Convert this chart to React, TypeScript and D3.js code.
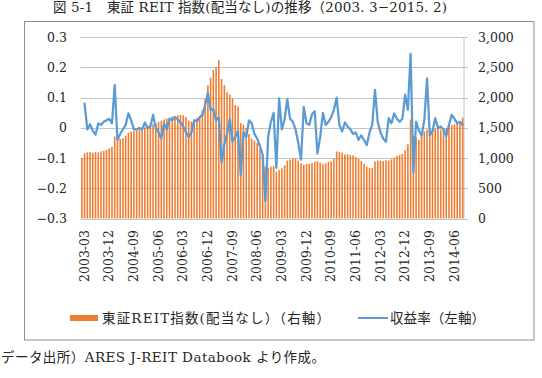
import React from "react";
import * as d3 from "d3";

const W = 542;
const H = 378;

// Monthly TSE REIT index (no dividends), starting 2003-03
const indexValues = [
  1000, 1080, 1095, 1100, 1090, 1100, 1095, 1110, 1120, 1135, 1160, 1185,
  1360, 1310, 1315, 1330, 1370, 1420, 1440, 1450, 1460, 1475, 1490, 1510,
  1525, 1540, 1560, 1580, 1600, 1620, 1640, 1655, 1670, 1690, 1700, 1710,
  1715, 1710, 1680, 1620, 1600, 1640, 1665, 1700, 1790, 1980, 2210, 2330,
  2460, 2510, 2620, 2310, 2210, 2090, 2050, 1990, 1880, 1855, 1580, 1555,
  1500, 1400, 1320, 1290, 1250, 1150, 1030, 860, 840, 860, 870, 775,
  800, 830, 880, 960, 975, 990, 990, 960, 915, 890, 900, 905,
  920, 940, 950, 925, 905, 915, 935, 950, 990, 1110, 1100, 1090,
  1060, 1065, 1050, 1045, 1020, 990, 950, 910, 860, 835, 840, 945,
  960, 955, 950, 965, 960, 980, 1005, 1035, 1050, 1070, 1130, 1230,
  1640, 1360, 1350, 1300, 1400, 1440, 1470, 1490, 1480, 1490, 1490, 1470,
  1490, 1500, 1520, 1550, 1560, 1575, 1600, 1670,
];

// Monthly return (left axis); no value for the first month
const returnValues: (number | null)[] = [
  null, 0.08, -0.005, 0.012, -0.01, -0.022, 0.015, 0.01, 0.02, 0.025, 0.03, 0.015,
  0.142, -0.04, -0.02, -0.005, 0.01, 0.048, 0.025, -0.005, -0.005, 0.0, -0.005, 0.018,
  0.0, 0.005, 0.043, 0.0, -0.015, -0.035, 0.015, -0.005, 0.03, 0.025, 0.035, 0.028,
  0.018, 0.005, -0.015, -0.03, -0.015, 0.025, 0.022, 0.035, 0.043, 0.075, 0.115, 0.06,
  0.062, 0.025, 0.035, -0.115, -0.055, -0.02, 0.03, -0.045, -0.03, -0.01, -0.158, -0.015,
  -0.03, 0.025, 0.015, -0.02, -0.035, -0.06, -0.088, -0.243, -0.03, 0.02, 0.05, -0.132,
  0.098, -0.005, 0.028, 0.095, 0.03, 0.02, -0.005, -0.05, -0.105, 0.07, 0.015, 0.01,
  0.045, 0.055, -0.085, -0.03, 0.05, 0.01, 0.02, 0.035, 0.06, 0.1, 0.01, -0.012,
  0.018, 0.005, -0.005, -0.02, -0.015, -0.04, -0.025, -0.04, -0.057, -0.015, 0.01, 0.126,
  0.02, -0.015, -0.035, -0.046, 0.032, 0.015, 0.048, 0.03, 0.02, 0.03, 0.11, 0.06,
  0.245, -0.148, 0.02, -0.008, -0.025, 0.025, 0.164, -0.025, -0.01, 0.032, 0.0, 0.005,
  -0.005, -0.028, 0.01, 0.043, 0.03, 0.015, 0.02, 0.01,
];

const tickLabels = [
  "2003-03", "2003-12", "2004-09", "2005-06", "2006-03", "2006-12", "2007-09", "2008-06",
  "2009-03", "2009-12", "2010-09", "2011-06", "2012-03", "2012-12", "2013-09", "2014-06",
];
const leftTicks = [-0.3, -0.2, -0.1, 0, 0.1, 0.2, 0.3];
const rightTicks = [0, 500, 1000, 1500, 2000, 2500, 3000];

const titleText = "図 5-1　東証 REIT 指数(配当なし)の推移（2003. 3−2015. 2)";
const legendBarText = "東証REIT指数(配当なし）（右軸）";
const legendLineText = "収益率（左軸）";
const sourceText = "データ出所）ARES J-REIT Databook より作成。";

const months = d3
  .utcMonth.range(new Date(Date.UTC(2003, 2, 1)), new Date(Date.UTC(2003, 2 + indexValues.length, 1)))
  .map(d3.utcFormat("%Y-%m"));

const ORANGE = "#ED7D31";
const BLUE = "#5B9BD5";
const GRID = "#c4c4c4";
const TEXT = "#262626";
const NUM_FONT = "'DejaVu Serif', 'Noto Sans CJK JP', serif";
const JP_FONT = "'DejaVu Serif', 'Noto Sans CJK JP', sans-serif";

export default function App() {
  const plot = { left: 80.5, right: 464, top: 37.3, bottom: 218.5 };

  const x = d3
    .scaleBand<string>()
    .domain(months)
    .range([plot.left, plot.right])
    .paddingInner(0.42)
    .paddingOuter(0.2);
  const yL = d3.scaleLinear().domain([-0.3, 0.3]).range([plot.bottom, plot.top]);
  const yR = d3.scaleLinear().domain([0, 3000]).range([plot.bottom, plot.top]);

  const cx = (i: number) => (x(months[i]) ?? 0) + x.bandwidth() / 2;

  const line = d3
    .line<number | null>()
    .defined((d) => d !== null)
    .x((_, i) => cx(i))
    .y((d) => yL(d as number));

  const fmtLeft = (v: number) => (v === 0 ? "0" : d3.format(".1f")(v));
  const fmtRight = d3.format(",");

  return (
    <svg
      width={W}
      height={H}
      style={{ position: "absolute", left: 0, top: 0, background: "#fff" }}
    >
      {/* title */}
      <text
        x={53}
        y={12}
        fontSize={13.5}
        fontFamily={JP_FONT}
        fill={TEXT}
        textLength={394}
        lengthAdjust="spacing"
      >
        {titleText}
      </text>

      {/* chart frame */}
      <rect x={24.5} y={21.5} width={509.5} height={318.5} fill="#fff" stroke="#8f8f8f" strokeWidth={1} />

      {/* gridlines */}
      {leftTicks.map((t) => (
        <line
          key={"g" + t}
          x1={plot.left}
          x2={plot.right + 4}
          y1={Math.round(yL(t)) + 0.5}
          y2={Math.round(yL(t)) + 0.5}
          stroke={GRID}
          strokeWidth={1}
        />
      ))}
      <line x1={plot.right} x2={plot.right} y1={plot.top} y2={plot.bottom} stroke={GRID} strokeWidth={1} />

      {/* index bars, right axis */}
      {indexValues.map((v, i) => (
        <rect
          key={"b" + i}
          x={x(months[i])}
          y={yR(v)}
          width={x.bandwidth()}
          height={yR(0) - yR(v)}
          fill={ORANGE}
        />
      ))}

      {/* return line, left axis */}
      <path
        d={line(returnValues) ?? ""}
        fill="none"
        stroke={BLUE}
        strokeWidth={2.25}
        strokeLinejoin="round"
        strokeLinecap="round"
      />

      {/* left axis labels */}
      {leftTicks.map((t) => (
        <text
          key={"l" + t}
          x={67}
          y={yL(t)}
          dy="0.36em"
          textAnchor="end"
          fontSize={12.5}
          fontFamily={NUM_FONT}
          fill={TEXT}
        >
          {fmtLeft(t)}
        </text>
      ))}

      {/* right axis labels */}
      {rightTicks.map((t) => (
        <text
          key={"r" + t}
          x={478}
          y={yR(t)}
          dy="0.36em"
          textAnchor="start"
          fontSize={12.5}
          fontFamily={NUM_FONT}
          fill={TEXT}
        >
          {fmtRight(t)}
        </text>
      ))}

      {/* category labels */}
      {tickLabels.map((lab) => (
        <text
          key={lab}
          transform={`translate(${cx(months.indexOf(lab)) + 2.5},${230}) rotate(-90)`}
          dy="0.36em"
          textAnchor="end"
          fontSize={12.5}
          fontFamily={NUM_FONT}
          fill={TEXT}
        >
          {lab}
        </text>
      ))}

      {/* legend */}
      <rect x={70} y={315} width={28} height={6} fill={ORANGE} />
      <text
        x={102}
        y={318}
        dy="0.36em"
        fontSize={13.5}
        fontFamily={JP_FONT}
        fill={TEXT}
        textLength={228}
        lengthAdjust="spacing"
      >
        {legendBarText}
      </text>
      <line x1={358} x2={388} y1={318} y2={318} stroke={BLUE} strokeWidth={2} />
      <text
        x={390}
        y={318}
        dy="0.36em"
        fontSize={13.5}
        fontFamily={JP_FONT}
        fill={TEXT}
        textLength={95}
        lengthAdjust="spacing"
      >
        {legendLineText}
      </text>

      {/* source note */}
      <text
        x={1}
        y={357}
        dy="0.36em"
        fontSize={13.5}
        fontFamily={JP_FONT}
        fill={TEXT}
        textLength={324}
        lengthAdjust="spacing"
      >
        {sourceText}
      </text>
    </svg>
  );
}
